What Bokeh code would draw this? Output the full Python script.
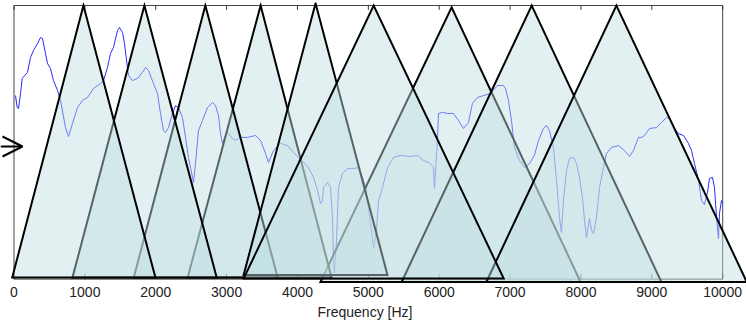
from bokeh.plotting import figure
from bokeh.models import Range1d, FixedTicker, Arrow, OpenHead, Title
from bokeh.embed import file_html
from bokeh.resources import INLINE

# spectrum (frequency in Hz, relative level 0..1)
freq_hz = [21, 45, 64, 92, 116, 190, 233, 275, 332, 374, 402, 444, 473, 515, 557, 614, 656, 727, 769,
           825, 896, 967, 1037, 1122, 1221, 1263, 1319, 1362, 1404, 1460, 1489, 1531, 1559, 1601, 1616,
           1672, 1743, 1813, 1856, 1898, 1968, 2025, 2067, 2109, 2138, 2180, 2236, 2279, 2321, 2378,
           2420, 2462, 2519, 2533, 2561, 2603, 2660, 2730, 2801, 2843, 2886, 2914, 2942, 2985, 3013,
           3083, 3126, 3196, 3295, 3408, 3478, 3549, 3591, 3662, 3761, 3859, 3944, 4014, 4085, 4155,
           4226, 4283, 4325, 4353, 4367, 4424, 4466, 4494, 4508, 4522, 4551, 4579, 4635, 4706, 4790,
           4861, 4917, 4960, 5002, 5059, 5073, 5115, 5143, 5200, 5270, 5355, 5454, 5595, 5693, 5778,
           5877, 5919, 5933, 5975, 5990, 6046, 6117, 6201, 6272, 6342, 6413, 6469, 6540, 6625, 6724,
           6822, 6907, 6935, 6977, 7020, 7062, 7133, 7203, 7274, 7344, 7401, 7471, 7513, 7556, 7612,
           7655, 7697, 7725, 7753, 7796, 7838, 7895, 7937, 7979, 8021, 8050, 8078, 8120, 8149, 8177,
           8219, 8262, 8318, 8360, 8431, 8530, 8614, 8685, 8741, 8812, 8854, 8897, 8967, 9066, 9136,
           9207, 9249, 9320, 9376, 9447, 9517, 9560, 9602, 9659, 9701, 9743, 9786, 9814, 9856, 9884,
           9913, 9941, 9955, 9983, 9997]
level = [0.669, 0.625, 0.621, 0.676, 0.732, 0.754, 0.809, 0.835, 0.860, 0.882, 0.879, 0.824, 0.787,
         0.768, 0.724, 0.688, 0.651, 0.551, 0.518, 0.566, 0.625, 0.651, 0.662, 0.695, 0.713, 0.724,
         0.772, 0.824, 0.846, 0.908, 0.919, 0.901, 0.860, 0.772, 0.743, 0.724, 0.732, 0.754, 0.772,
         0.761, 0.713, 0.676, 0.603, 0.540, 0.533, 0.551, 0.603, 0.632, 0.625, 0.588, 0.515, 0.441,
         0.368, 0.349, 0.419, 0.540, 0.577, 0.625, 0.643, 0.632, 0.596, 0.529, 0.493, 0.522, 0.533,
         0.511, 0.504, 0.515, 0.515, 0.522, 0.504, 0.456, 0.423, 0.467, 0.493, 0.485, 0.460, 0.441,
         0.423, 0.404, 0.368, 0.320, 0.272, 0.283, 0.331, 0.349, 0.331, 0.221, 0.063, 0.018, 0.136,
         0.331, 0.382, 0.401, 0.401, 0.404, 0.368, 0.331, 0.257, 0.136, 0.107, 0.173, 0.283, 0.331,
         0.404, 0.441, 0.449, 0.445, 0.449, 0.430, 0.419, 0.404, 0.327, 0.504, 0.603, 0.607, 0.603,
         0.603, 0.577, 0.548, 0.570, 0.640, 0.662, 0.669, 0.676, 0.706, 0.706, 0.695, 0.651, 0.577,
         0.478, 0.430, 0.404, 0.419, 0.449, 0.504, 0.548, 0.559, 0.540, 0.478, 0.357, 0.221, 0.165,
         0.283, 0.393, 0.438, 0.441, 0.419, 0.368, 0.294, 0.210, 0.147, 0.217, 0.173, 0.162, 0.221,
         0.331, 0.404, 0.456, 0.478, 0.485, 0.467, 0.445, 0.467, 0.515, 0.515, 0.522, 0.548, 0.551,
         0.570, 0.588, 0.585, 0.548, 0.529, 0.522, 0.493, 0.467, 0.419, 0.357, 0.283, 0.268, 0.313,
         0.364, 0.368, 0.331, 0.221, 0.143, 0.235, 0.283, 0.272]

# triangular filters (Hz) and their base / top levels
tri_left = [-25, 825, 1690, 2450, 3240, 3240, 4325, 5470, 6665]
tri_peak = [980, 1840, 2700, 3480, 4255, 5075, 6175, 7305, 8500]
tri_right = [1995, 2860, 3720, 4480, 5270, 6910, 7995, 9135, 10340]
tri_base = [0.0, 0.0, 0.0, 0.0, 0.009, -0.004, -0.0165, -0.0165, -0.0165]
tri_top = [1.0, 1.0, 1.0, 1.0, 1.008, 1.0, 0.993, 1.0, 1.0]
draw_order = [6, 7, 8, 3, 2, 1, 0, 4, 5]

x_ticks = [0, 1000, 2000, 3000, 4000, 5000, 6000, 7000, 8000, 9000, 10000]
x_label = "Frequency [Hz]"
box_x = [0, 10000]
box_y = [-0.006, 1.0]
arrow_y = 0.4816

FONT = "Liberation Sans"

p = figure(width=746, height=327, output_backend="svg", toolbar_location=None,
           x_range=Range1d(-190.5, 10336), y_range=Range1d(-0.02206, 1.01103),
           min_border_left=0, min_border_right=0, min_border_top=2, min_border_bottom=44)
p.outline_line_color = None
p.grid.visible = False
p.yaxis.visible = False
p.background_fill_color = "white"
p.border_fill_color = "white"

xa = p.xaxis[0]
xa.ticker = FixedTicker(ticks=x_ticks)
xa.axis_line_color = None
xa.major_tick_line_color = None
xa.minor_tick_line_color = None
xa.major_label_text_font = FONT
xa.major_label_text_font_size = "14px"
xa.major_label_text_color = "#222222"
xa.major_label_standoff = -3

# axes box and inner ticks (underneath the filters)
bx0, bx1 = box_x
by0, by1 = box_y
p.line([bx0, bx1, bx1, bx0, bx0], [by0, by0, by1, by1, by0], line_color="#444444", line_width=1)
p.segment(x0=x_ticks, y0=[by0] * len(x_ticks), x1=x_ticks, y1=[by0 + 0.02] * len(x_ticks),
          line_color="#333333", line_width=1)
p.segment(x0=x_ticks, y0=[by1] * len(x_ticks), x1=x_ticks, y1=[by1 - 0.016] * len(x_ticks),
          line_color="#333333", line_width=1)

# spectrum
p.line(freq_hz, level, line_color="#2a2aff", line_width=1)

# filters
for i in draw_order:
    p.patch([tri_left[i], tri_peak[i], tri_right[i]],
            [tri_base[i], tri_top[i], tri_base[i]],
            fill_color="#bfdee2", fill_alpha=0.45,
            line_color="black", line_width=2, line_join="miter")

# arrow on the left
p.add_layout(Arrow(end=OpenHead(size=20, line_width=2, line_color="black"),
                   x_start=-190.5, y_start=arrow_y, x_end=120, y_end=arrow_y,
                   line_width=2, line_color="black"))

p.add_layout(Title(text=x_label, align="left", offset=317, standoff=4,
                   text_font=FONT, text_font_size="14px", text_font_style="normal",
                   text_color="#222222"), "below")

open("out.html", "w").write(file_html(p, INLINE))
